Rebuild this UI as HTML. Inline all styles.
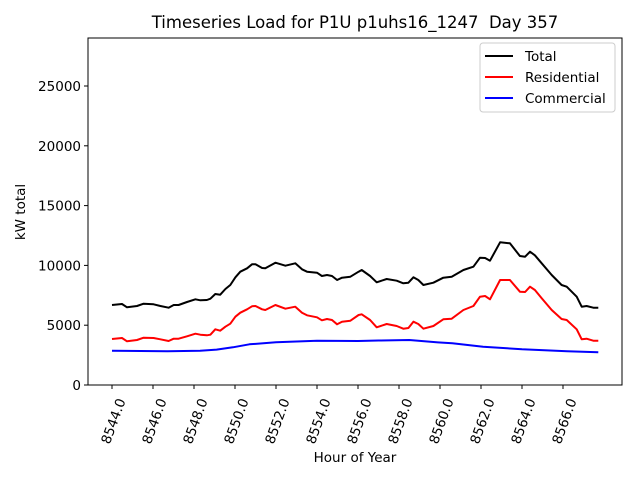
<!DOCTYPE html>
<html><head><meta charset="utf-8"><style>
body{margin:0;background:#fff}
svg{display:block;font-family:"DejaVu Sans","Liberation Sans",sans-serif}
</style></head><body>
<svg id="chart" width="640" height="480" viewBox="0 0 640 480" xmlns="http://www.w3.org/2000/svg">
<rect width="640" height="480" fill="#fff"/>
<text x="355" y="28" font-size="16.5" text-anchor="middle" style="white-space:pre">Timeseries Load for P1U p1uhs16_1247  Day 357</text>
<g id="grid"></g>
<g id="series"></g>
<rect x="88" y="38" width="534" height="347" fill="none" stroke="#000" stroke-width="1"/>
<g id="axes"></g>
<text transform="translate(25,212) rotate(-90)" font-size="13.5" text-anchor="middle">kW total</text>
<text x="355" y="462" font-size="13.5" text-anchor="middle">Hour of Year</text>
<g>
<rect x="480" y="43" width="135" height="69" rx="3" fill="#fff" fill-opacity="0.8" stroke="#ccc"/>
<line x1="485" y1="56" x2="513" y2="56" stroke="#000" stroke-width="2"/>
<text x="525" y="61" font-size="13.5">Total</text>
<line x1="485" y1="77" x2="513" y2="77" stroke="#f00" stroke-width="2"/>
<text x="525" y="82" font-size="13.5">Residential</text>
<line x1="485" y1="98" x2="513" y2="98" stroke="#00f" stroke-width="2"/>
<text x="525" y="103" font-size="13.5">Commercial</text>
</g>
</svg>
<script>
const hours=[8544,8544.49,8544.73,8545.22,8545.54,8546.03,8546.36,8546.76,8547.01,8547.25,8547.66,8548.07,8548.31,8548.63,8548.8,8549.04,8549.28,8549.53,8549.77,8550.02,8550.26,8550.59,8550.83,8551.0,8551.32,8551.48,8551.97,8552.46,8552.94,8553.27,8553.51,8554.0,8554.24,8554.49,8554.73,8554.98,8555.22,8555.63,8556.03,8556.18,8556.59,8556.91,8557.4,8557.89,8558.21,8558.46,8558.7,8558.94,8559.19,8559.68,8560.16,8560.57,8561.14,8561.63,8561.95,8562.2,8562.44,8562.93,8563.41,8563.9,8564.15,8564.39,8564.63,8564.96,8565.45,8565.93,8566.18,8566.67,8566.91,8567.15,8567.48,8567.72];
const total=[6689,6773,6494,6605,6800,6745,6605,6466,6689,6689,6940,7163,7079,7107,7218,7609,7553,8027,8361,9002,9476,9755,10089,10089,9783,9755,10228,9978,10173,9671,9476,9392,9114,9197,9114,8779,8974,9058,9476,9615,9114,8584,8863,8724,8500,8556,9002,8779,8361,8556,8974,9058,9615,9894,10646,10619,10396,11929,11845,10786,10730,11148,10842,10173,9197,8361,8222,7386,6550,6605,6466,6466];
const residential=[3846,3930,3651,3763,3958,3930,3819,3679,3874,3874,4069,4292,4208,4153,4208,4655,4543,4877,5128,5713,6048,6327,6578,6605,6327,6271,6689,6382,6550,6048,5825,5658,5407,5518,5435,5073,5295,5379,5853,5909,5435,4822,5100,4933,4710,4766,5295,5100,4710,4933,5491,5546,6271,6605,7386,7441,7163,8779,8779,7804,7776,8222,7943,7247,6271,5518,5435,4655,3819,3874,3707,3707];
const commHours=[8544,8546.7,8548.3,8549.1,8549.9,8550.7,8552.0,8554.0,8556.0,8557.0,8558.5,8559.9,8560.6,8562.1,8564.0,8566.2,8567.72];
const commercial=[2871,2815,2870,2960,3150,3400,3567,3707,3679,3720,3763,3560,3484,3205,2982,2815,2731];
const yTicks=[0,5000,10000,15000,20000,25000];
const xTicks=[8544,8546,8548,8550,8552,8554,8556,8558,8560,8562,8564,8566];
const NS='http://www.w3.org/2000/svg';
const xs=t=>112+(t-8544)*20.5;
const ys=v=>385-v*0.01196;
const seriesG=document.getElementById('series');
function line(xsArr,vals,color,name){
  const p=document.createElementNS(NS,'polyline');
  p.setAttribute('points',vals.map((v,i)=>xs(xsArr[i]).toFixed(1)+','+ys(v).toFixed(1)).join(' '));
  p.setAttribute('fill','none');p.setAttribute('stroke',color);p.setAttribute('stroke-width','2');
  p.setAttribute('stroke-linejoin','round');
  
  
  seriesG.appendChild(p);
}
line(hours,total,'#000','total-line');
line(hours,residential,'#f00','residential-line');
line(commHours,commercial,'#00f','commercial-line');
const axes=document.getElementById('axes');
yTicks.forEach(v=>{
  const y=ys(v);
  const l=document.createElementNS(NS,'line');
  l.setAttribute('x1',84);l.setAttribute('x2',88);l.setAttribute('y1',y);l.setAttribute('y2',y);l.setAttribute('stroke','#000');
  
  
  axes.appendChild(l);
  const t=document.createElementNS(NS,'text');
  t.setAttribute('x',81);t.setAttribute('y',y+5);t.setAttribute('text-anchor','end');t.setAttribute('font-size','13.5');
  t.textContent=v;
  
  
  axes.appendChild(t);
});
xTicks.forEach(v=>{
  const x=xs(v);
  const l=document.createElementNS(NS,'line');
  l.setAttribute('x1',x);l.setAttribute('x2',x);l.setAttribute('y1',385);l.setAttribute('y2',389);l.setAttribute('stroke','#000');
  
  
  axes.appendChild(l);
  const t=document.createElementNS(NS,'text');
  t.setAttribute('transform','translate('+(x+1)+',421) rotate(-70)');
  t.setAttribute('text-anchor','middle');t.setAttribute('dy','5');t.setAttribute('font-size','13.5');
  t.textContent=v.toFixed(1);
  
  
  axes.appendChild(t);
});
</script>
</body></html>
